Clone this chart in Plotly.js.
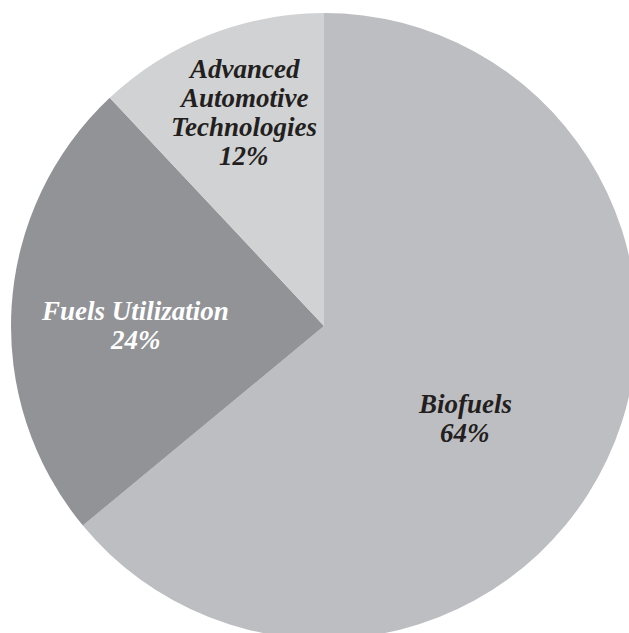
<!DOCTYPE html>
<html>
<head>
<meta charset="utf-8">
<script src="https://cdn.plot.ly/plotly-3.0.1.min.js"></script>
<style>
html,body{margin:0;padding:0;overflow:hidden;background:#fff;width:629px;height:633px;}
#chart{width:650px;height:639px;}
</style>
</head>
<body>
<div id="chart"></div>
<script>
const categories = ["Biofuels", "Fuels Utilization", "Advanced Automotive Technologies"];
const labelLines = [["Biofuels"], ["Fuels Utilization"], ["Advanced", "Automotive", "Technologies"]];
const shares = [64, 24, 12];
const sliceColors = ["#bdbec2", "#929397", "#d1d2d4"];
const textColors = ["#231f20", "#ffffff", "#231f20"];

// layout geometry (pixels in the 650x639 figure)
const W = 650, H = 639, ML = 11, MR = 13, MT = 13, MB = 0;
const PW = W - ML - MR, PH = H - MT - MB;
// label block placement: centre x and first baseline y, in pixels
const labelAnchor = [[465, 413], [135, 320], [244, 78]];
const lineStep = 29;
const fontSize = 27;

const px2x = px => (px - ML) / PW;
const py2y = py => 1 - (py - MT) / PH;

const annotations = [];
categories.forEach((cat, i) => {
  const lines = labelLines[i].concat([shares[i] + "%"]);
  lines.forEach((ln, j) => {
    const baseline = labelAnchor[i][1] + j * lineStep;
    annotations.push({
      xref: "paper", yref: "paper",
      x: px2x(labelAnchor[i][0]), y: py2y(baseline - 0.34 * fontSize),
      xanchor: "center", yanchor: "middle",
      text: "<b><i>" + ln + "</i></b>",
      showarrow: false,
      font: {family: "Liberation Serif, serif", size: fontSize, color: textColors[i]}
    });
  });
});

const trace = {
  type: "pie",
  labels: categories,
  values: shares,
  sort: false,
  direction: "clockwise",
  rotation: 0,
  marker: {colors: sliceColors, line: {width: 0}},
  textinfo: "none",
  hoverinfo: "none",
  showlegend: false
};

const layout = {
  width: W, height: H,
  margin: {l: ML, r: MR, t: MT, b: MB},
  paper_bgcolor: "#ffffff",
  showlegend: false,
  annotations: annotations
};

Plotly.newPlot("chart", [trace], layout, {staticPlot: true, displayModeBar: false});
</script>
</body>
</html>
